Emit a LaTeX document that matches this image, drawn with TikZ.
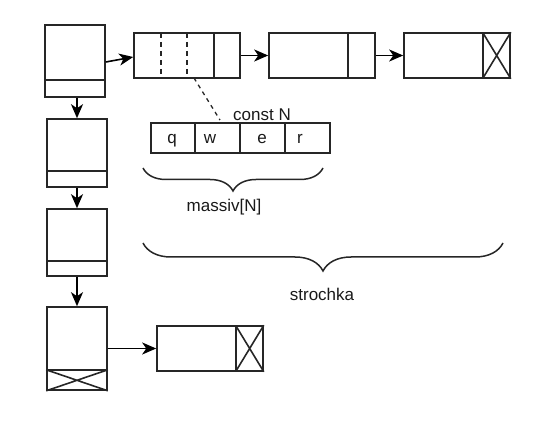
\documentclass[tikz,border=0pt]{standalone}
\usepackage{fontspec}
\setmainfont{Liberation Sans}
\usetikzlibrary{arrows.meta,decorations.pathreplacing,calc}
\begin{document}
\begin{tikzpicture}[x=1pt,y=-1pt,
  box/.style={draw=black!85,line width=1.6pt,rectangle,inner sep=0pt},
  ln/.style={draw=black!85,line width=1.6pt},
  arr/.style={draw=black,line width=1.6pt,-{Stealth[length=14pt,width=12pt,inset=4pt]}},
  lbl/.style={font=\fontsize{17}{19}\selectfont,inner sep=0pt,text=black!90,anchor=base},
  brc/.style={draw=black!85,line width=1.5pt,decorate}]
\useasboundingbox (0,0) rectangle (552,422);
% left column
\node[box,minimum width=60pt,minimum height=72pt] (b1) at (75,61) {};
\node[box,minimum width=60pt,minimum height=68pt] (b2) at (77,153) {};
\node[box,minimum width=60pt,minimum height=67pt] (b3) at (77,242.5) {};
\node[box,minimum width=60pt,minimum height=83pt] (b4) at (77,348.5) {};
\draw[ln] ($(b1.south west)+(0,-18)$) -- ($(b1.south east)+(0,-18)$);
\draw[ln] ($(b2.south west)+(0,-17)$) -- ($(b2.south east)+(0,-17)$);
\draw[ln] ($(b3.south west)+(0,-16)$) -- ($(b3.south east)+(0,-16)$);
\coordinate (b4l) at ($(b4.south west)+(0,-21)$);
\coordinate (b4r) at ($(b4.south east)+(0,-21)$);
\draw[ln] (b4l) -- (b4r);
\draw[ln] (b4l) -- (b4.south east) (b4r) -- (b4.south west);
\draw[arr] (b2.north |- b1.south) -- (b2.north);
\draw[arr] (b2.south) -- (b3.north);
\draw[arr] (b3.south) -- (b4.north);
% top row
\node[box,minimum width=106pt,minimum height=45pt] (A) at (187,55.5) {};
\node[box,minimum width=106pt,minimum height=45pt] (B) at (322,55.5) {};
\node[box,minimum width=106pt,minimum height=45pt] (C) at (457,55.5) {};
\draw[ln] (214,33) -- (214,78);
\draw[ln,dashed,dash pattern=on 5pt off 4pt] (161,33) -- (161,78);
\draw[ln,dashed,dash pattern=on 5pt off 4pt] (187,33) -- (187,78);
\draw[ln] (348,33) -- (348,78);
\draw[ln] (483,33) -- (483,78);
\draw[ln] (483,33) -- (C.south east) (483,78) -- (C.north east);
\draw[arr] ($(b1.east)+(0,1)$) -- ($(A.west)+(0,1.5)$);
\draw[arr] (A.east) -- (B.west);
\draw[arr] (B.east) -- (C.west);
% bottom right box
\node[box,minimum width=106pt,minimum height=45pt] (D) at (210,348.5) {};
\draw[ln] (236,326) -- (236,371);
\draw[ln] (236,326) -- (D.south east) (236,371) -- (D.north east);
\draw[arr] (b4.east |- D.west) -- (D.west);
% array
\node[box,minimum width=44pt,minimum height=30pt] (cq) at (173,138) {};
\node[box,minimum width=45pt,minimum height=30pt] (cw) at (217.5,138) {};
\node[box,minimum width=45pt,minimum height=30pt] (ce) at (262.5,138) {};
\node[box,minimum width=45pt,minimum height=30pt] (cr) at (307.5,138) {};
\node[lbl] (tq) at (172,143.5) {q};
\node[lbl] (tw) at (210,143.5) {w};
\node[lbl] (te) at (262,143.5) {e};
\node[lbl] (tr) at (300,143.5) {r};
\node[lbl] (constN) at (262,121) {const N};
\coordinate (d1) at (194,78);
\coordinate (d2) at (220,120);
\draw[ln,dashed,dash pattern=on 4pt off 4pt,line width=1.3pt] (d1) -- (d2);
% braces
\coordinate (br1a) at (143,168);
\coordinate (br1b) at (323,168);
\draw[brc,decoration={brace,mirror,amplitude=23pt,aspect=0.5}] (br1a) -- (br1b);
\node[lbl] (massiv) at (224,212) {massiv[N]};
\coordinate (br2a) at (143,243);
\coordinate (br2b) at (503,243);
\draw[brc,decoration={brace,mirror,amplitude=28pt,aspect=0.5}] (br2a) -- (br2b);
\node[lbl] (strochka) at (322,300.5) {strochka};
\end{tikzpicture}
\end{document}
